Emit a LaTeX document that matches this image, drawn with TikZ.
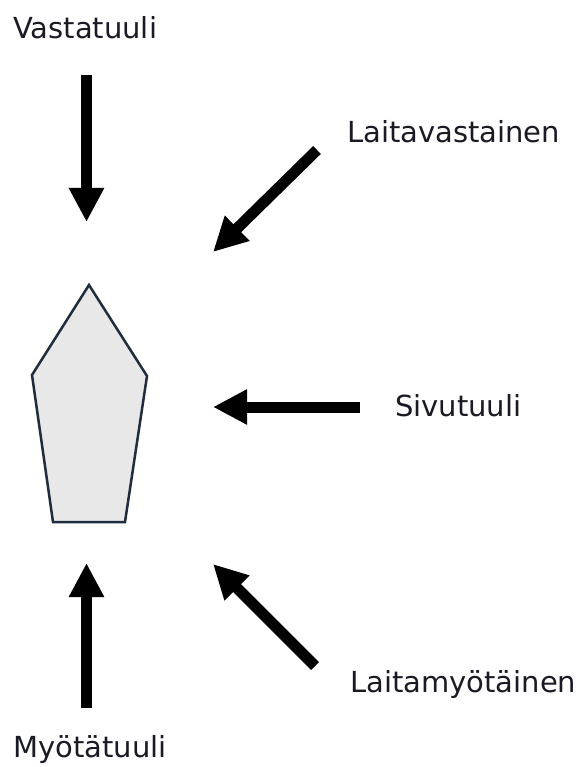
\documentclass[tikz,border=0pt]{standalone}
\usepackage{fontspec}
\setmainfont{DejaVu Sans}
\usetikzlibrary{arrows.meta}
\definecolor{boatfill}{HTML}{E8E8E8}
\definecolor{boatline}{HTML}{1F2D3D}
\definecolor{txt}{HTML}{1A1A24}
\tikzset{
  wind/.style={line width=11pt, -{Triangle[length=34pt,width=33pt]}},
  lbl/.style={anchor=base west, inner sep=0pt, text=txt, font=\fontsize{29}{34}\selectfont}
}
\begin{document}
\begin{tikzpicture}[x=1pt,y=-1pt]
\useasboundingbox (0,0) rectangle (577,767);
% boat
\draw[boatline, fill=boatfill, line width=2.5pt, line join=miter]
  (89,285) coordinate (bt) -- (147,376) coordinate (br) -- (125,522) coordinate (bbr)
  -- (53,522) coordinate (bbl) -- (32,375) coordinate (bl) -- cycle;
% labels
\node[lbl] (vasta) at (13,39) {Vastatuuli};
\node[lbl] (laitav) at (347,143) {Laitavastainen};
\node[lbl] (sivu) at (395,416) {Sivutuuli};
\node[lbl] (laitam) at (350,692) {Laitamyötäinen};
\node[lbl] (myota) at (13,757) {Myötätuuli};
% arrow ends
\coordinate (a1s) at (86.5,75);  \coordinate (a1e) at (86.5,222);
\coordinate (a2s) at (317,150);  \coordinate (a2e) at (213,252);
\coordinate (a3s) at (360,407);  \coordinate (a3e) at (213,407);
\coordinate (a4s) at (315,666);  \coordinate (a4e) at (213,564);
\coordinate (a5s) at (86.5,708); \coordinate (a5e) at (86.5,563);
\draw[wind] (a1s) -- (a1e);
\draw[wind] (a2s) -- (a2e);
\draw[wind] (a3s) -- (a3e);
\draw[wind] (a4s) -- (a4e);
\draw[wind] (a5s) -- (a5e);
\end{tikzpicture}
\end{document}
